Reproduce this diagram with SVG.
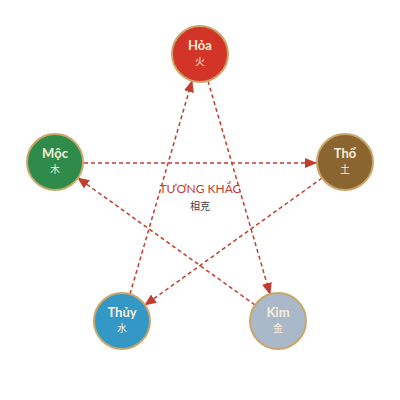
<svg xmlns="http://www.w3.org/2000/svg" width="400" height="400" viewBox="0 0 400 400">
<style>
.node circle{stroke:#c9a76a;stroke-width:2}
.name{font-family:Lato,"Noto Sans",sans-serif;font-weight:bold;font-size:13px;fill:#f6eedc;text-anchor:middle}
.han{font-family:"Noto Sans CJK SC",sans-serif;font-size:10px;fill:#f6eedc;text-anchor:middle}
.edge{stroke:#c43c30;stroke-width:1.5;stroke-dasharray:4 3;fill:none;marker-end:url(#arr)}
</style>
<defs>
<marker id="arr" markerUnits="userSpaceOnUse" markerWidth="12" markerHeight="10" refX="11" refY="5" orient="auto" viewBox="0 0 12 10">
<path d="M0,0 L12,5 L0,10 Z" fill="#c43c30"/>
</marker>
</defs>
<rect width="400" height="400" fill="#ffffff"/>
<g id="connectors">
<line class="edge" x1="84" y1="163" x2="316" y2="163"/>
<line class="edge" x1="322" y1="178" x2="145" y2="305"/>
<line class="edge" x1="130" y1="294" x2="192" y2="81"/>
<line class="edge" x1="208" y1="81" x2="270" y2="294"/>
<line class="edge" x1="255" y1="305" x2="78" y2="178"/>
</g>
<g id="center-label">
<text x="200" y="193" font-family="Lato,'Noto Sans',sans-serif" font-size="12" fill="#c43c30" text-anchor="middle">TƯƠNG KHẮC</text>
<text x="200" y="210" font-family="'Noto Sans CJK SC',sans-serif" font-size="10" fill="#4a3a4a" text-anchor="middle">相克</text>
</g>
<g id="hoa" class="node">
<circle cx="200" cy="54" r="28" fill="#d23527"/>
<text class="name" x="200" y="50">Hỏa</text>
<text class="han" x="200" y="65">火</text>
</g>
<g id="moc" class="node">
<circle cx="55" cy="162" r="28" fill="#2e8b4a"/>
<text class="name" x="55" y="158">Mộc</text>
<text class="han" x="55" y="173">木</text>
</g>
<g id="tho" class="node">
<circle cx="345" cy="162" r="28" fill="#8b6530"/>
<text class="name" x="345" y="158">Thổ</text>
<text class="han" x="345" y="173">土</text>
</g>
<g id="thuy" class="node">
<circle cx="122" cy="321" r="28" fill="#3498c6"/>
<text class="name" x="122" y="317">Thủy</text>
<text class="han" x="122" y="332">水</text>
</g>
<g id="kim" class="node">
<circle cx="278" cy="321" r="28" fill="#a9b9c9"/>
<text class="name" x="278" y="317">Kim</text>
<text class="han" x="278" y="332">金</text>
</g>
</svg>
